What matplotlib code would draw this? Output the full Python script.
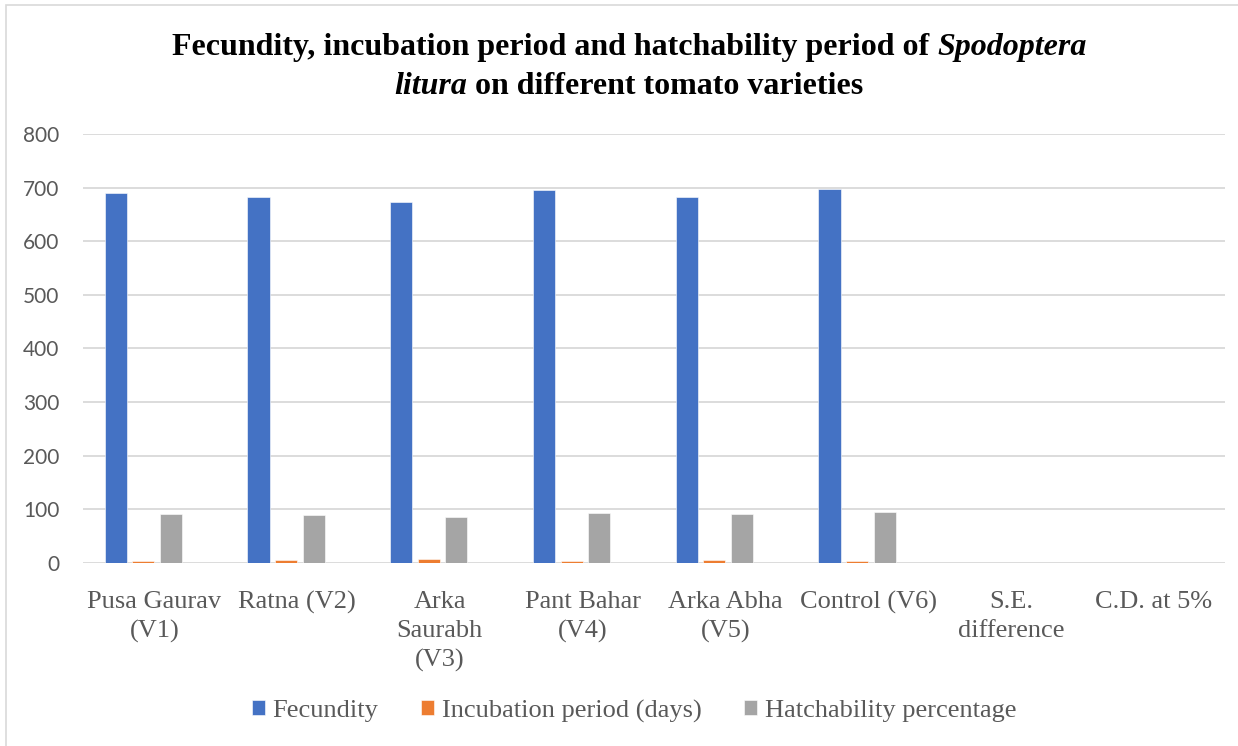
import matplotlib
matplotlib.use("Agg")
import matplotlib.pyplot as plt
import numpy as np
from matplotlib.patches import Rectangle

# data
categories = ["Pusa Gaurav\n(V1)", "Ratna (V2)", "Arka\nSaurabh\n(V3)", "Pant Bahar\n(V4)",
              "Arka Abha\n(V5)", "Control (V6)", "S.E.\ndifference", "C.D. at 5%"]
fecundity = [690, 682, 673, 695, 682, 698, 0, 0]
incubation = [4.5, 5.7, 7.5, 4.5, 5.0, 3.8, 0, 0]
hatchability = [92, 89, 86, 94, 91, 96, 0, 0]

series = [("Fecundity", fecundity, "#4472C4"),
          ("Incubation period (days)", incubation, "#ED7D31"),
          ("Hatchability percentage", hatchability, "#A5A5A5")]

W, H = 1238, 746
fig = plt.figure(figsize=(W / 100, H / 100), dpi=100)
ax = fig.add_axes([83 / W, 1 - 563 / H, (1225 - 83) / W, (563 - 134) / H])

x = np.arange(len(categories))
slot = 0.193
for k, (name, vals, col) in enumerate(series):
    # Excel-style layout: 4 slots per group, the last one empty
    ax.bar(x + (k - 1.4) * slot, vals, width=0.155, color=col, label=name,
           edgecolor="white", linewidth=0.4, zorder=3)

ax.set_xlim(-0.5, len(categories) - 0.5)
ax.set_ylim(0, 800)
ax.set_yticks(range(0, 801, 100))
ax.grid(axis="y", color="#D9D9D9", linewidth=1.3, zorder=0)
for s in ax.spines.values():
    s.set_visible(False)
ax.tick_params(axis="both", length=0)
ax.tick_params(axis="y", pad=17, labelsize=15, labelcolor="#595959")
ax.set_yticklabels([str(v) for v in range(0, 801, 100)], family="Lato")
ax.set_xticks(x)
ax.set_xticklabels(categories, family="Liberation Serif", fontsize=19,
                   color="#595959", linespacing=1.4)
ax.tick_params(axis="x", pad=20)

leg = fig.legend(loc="center", bbox_to_anchor=(634 / W, 1 - 711 / H), ncol=3,
                 frameon=False, prop={"family": "Liberation Serif", "size": 19},
                 handlelength=0.5, handleheight=0.5, handletextpad=0.3,
                 columnspacing=1.6)
for t in leg.get_texts():
    t.set_color("#595959")

# light chart border (left and top edges visible)
fig.patches.append(Rectangle((6 / W, -0.1), 1.2, 1 - 5 / H + 0.1, transform=fig.transFigure,
                             fill=False, edgecolor="#D9D9D9", linewidth=1.2))

# title with mixed bold / bold-italic parts
fig.canvas.draw()
renderer = fig.canvas.get_renderer()
title_lines = [
    [("Fecundity, incubation period and hatchability period of ", "normal"), ("Spodoptera", "italic")],
    [("litura", "italic"), (" on different tomato varieties", "normal")],
]
centers_y = [48, 86]
for parts, cy in zip(title_lines, centers_y):
    texts = []
    for s, style in parts:
        t = fig.text(0, 1 - cy / H, s, family="Liberation Serif", weight="bold",
                     style=style, fontsize=23, va="center", ha="left")
        texts.append(t)
    widths = [t.get_window_extent(renderer).width for t in texts]
    xpos = 629 - sum(widths) / 2
    for t, w in zip(texts, widths):
        t.set_x(xpos / W)
        xpos += w

fig.savefig("out.png", dpi=100)
